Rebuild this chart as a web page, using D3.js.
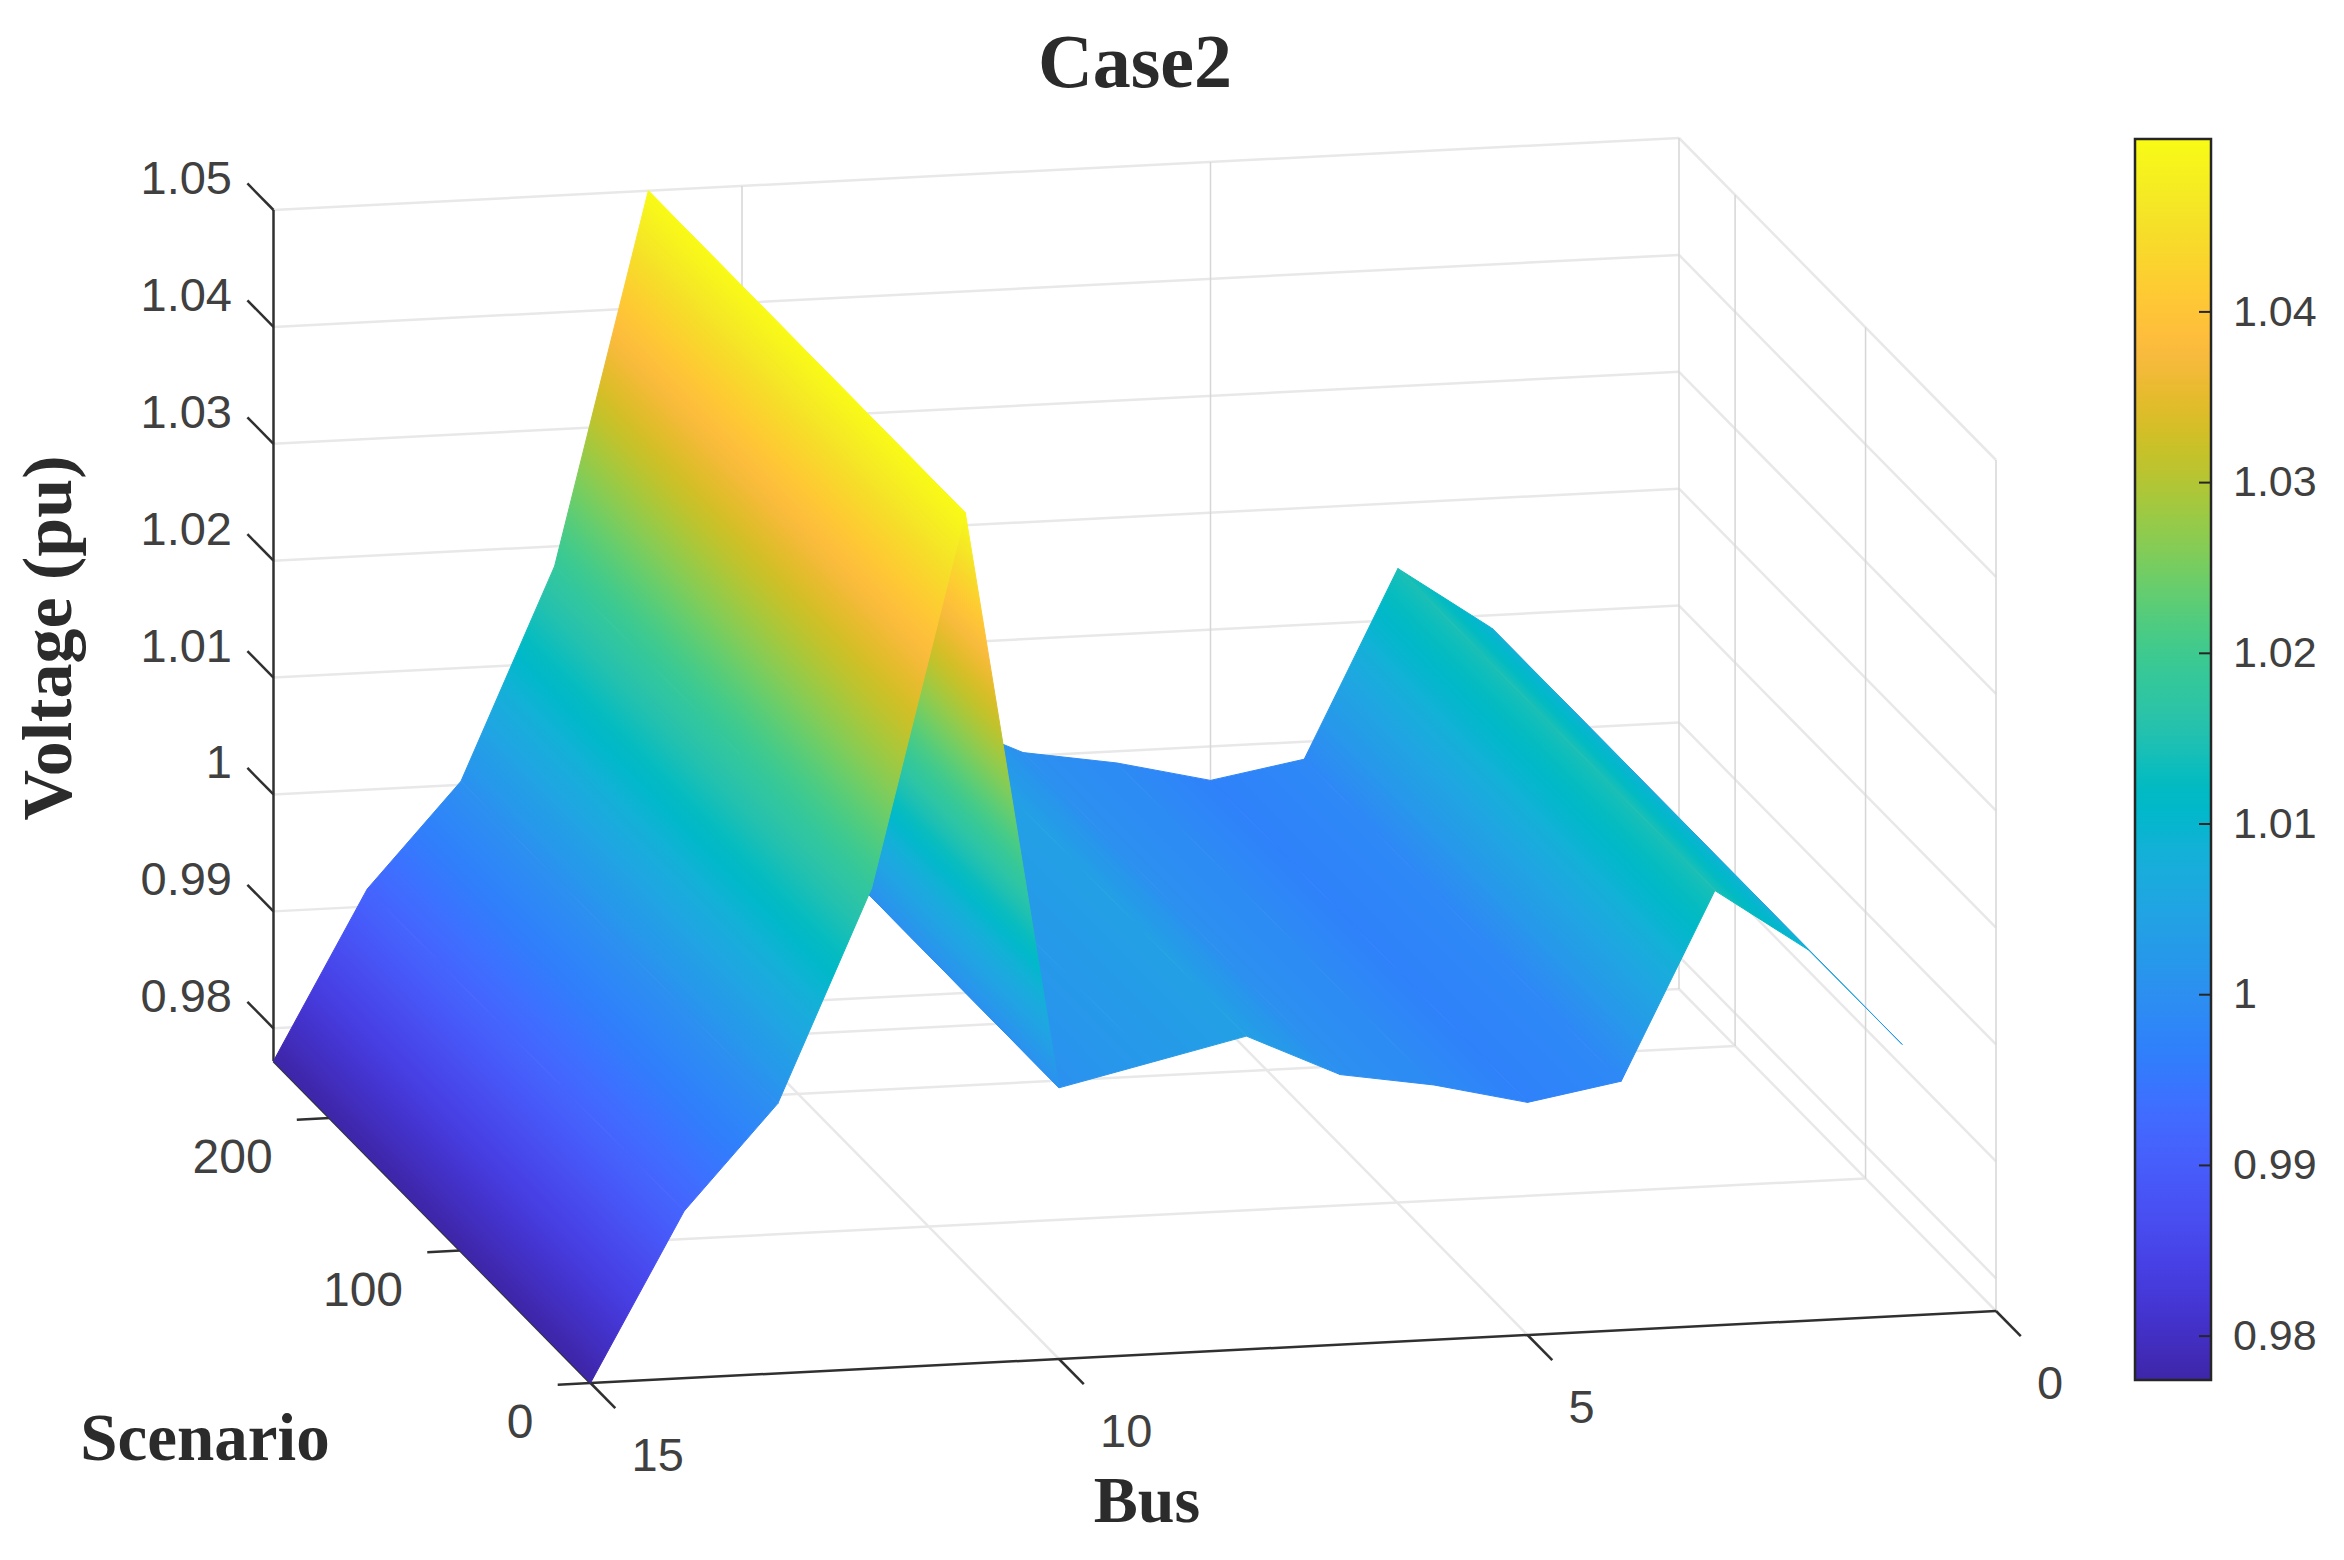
<!DOCTYPE html>
<html>
<head>
<meta charset="utf-8">
<title>Case2</title>
<script src="https://cdn.jsdelivr.net/npm/d3@7"></script>
<style>
  html, body { margin: 0; background: #fff; }
  svg { display: block; }
  .tick-label { font-family: "Liberation Sans", Arial, sans-serif; fill: #404040; }
  .axis-title { font-family: "Liberation Serif", serif; font-weight: bold; fill: #2b2b2b; }
</style>
</head>
<body>
<svg id="chart" width="2344" height="1560"></svg>
<script>
// Voltage per bus (flat along the scenario axis)
const buses = [1, 2, 3, 4, 5, 6, 7, 8, 9, 10, 11, 12, 13, 14, 15];
const voltages = [1.0004, 1.0089, 1.0144, 0.9985, 0.9971, 0.9990, 1.0003, 1.0040, 1.0022, 1.0004, 1.0500, 1.0183, 1.0003, 0.9915, 0.9772];
const busTicks = [0, 5, 10, 15];
const scenarioTicks = [0, 100, 200];
const scenarioMax = 243;
const voltageTicks = [0.98, 0.99, 1, 1.01, 1.02, 1.03, 1.04, 1.05];
const voltageMin = 0.9772;
const voltageMax = 1.05;
const colorbarTicks = [0.98, 0.99, 1, 1.01, 1.02, 1.03, 1.04];
const colorbarMin = 0.9774;
const colorbarMax = 1.0501;

// MATLAB parula, 64 entries
const parula = [
  [0.2422,0.1504,0.6603],[0.2504,0.1650,0.7076],[0.2578,0.1818,0.7511],[0.2647,0.1978,0.7952],
  [0.2706,0.2147,0.8364],[0.2751,0.2342,0.8710],[0.2783,0.2559,0.8991],[0.2803,0.2782,0.9221],
  [0.2813,0.3006,0.9414],[0.2810,0.3228,0.9579],[0.2795,0.3447,0.9717],[0.2760,0.3667,0.9829],
  [0.2699,0.3892,0.9906],[0.2602,0.4123,0.9952],[0.2440,0.4358,0.9988],[0.2206,0.4603,0.9973],
  [0.1963,0.4847,0.9892],[0.1834,0.5074,0.9798],[0.1786,0.5289,0.9682],[0.1764,0.5499,0.9520],
  [0.1687,0.5703,0.9359],[0.1540,0.5902,0.9218],[0.1460,0.6091,0.9079],[0.1380,0.6276,0.8973],
  [0.1248,0.6459,0.8883],[0.1113,0.6635,0.8763],[0.0952,0.6798,0.8598],[0.0689,0.6948,0.8394],
  [0.0297,0.7082,0.8163],[0.0036,0.7203,0.7917],[0.0067,0.7312,0.7660],[0.0433,0.7411,0.7394],
  [0.0964,0.7500,0.7120],[0.1408,0.7584,0.6842],[0.1717,0.7670,0.6554],[0.1938,0.7758,0.6251],
  [0.2161,0.7843,0.5923],[0.2470,0.7918,0.5567],[0.2906,0.7973,0.5188],[0.3406,0.8008,0.4789],
  [0.3909,0.8029,0.4354],[0.4456,0.8024,0.3909],[0.5044,0.7993,0.3480],[0.5616,0.7942,0.3045],
  [0.6174,0.7876,0.2612],[0.6720,0.7793,0.2227],[0.7242,0.7698,0.1910],[0.7738,0.7598,0.1646],
  [0.8203,0.7498,0.1535],[0.8634,0.7406,0.1596],[0.9035,0.7330,0.1774],[0.9393,0.7288,0.2100],
  [0.9728,0.7298,0.2394],[0.9956,0.7434,0.2371],[0.9970,0.7659,0.2199],[0.9952,0.7893,0.2028],
  [0.9892,0.8136,0.1885],[0.9786,0.8386,0.1766],[0.9676,0.8639,0.1643],[0.9610,0.8890,0.1537],
  [0.9597,0.9135,0.1423],[0.9628,0.9373,0.1265],[0.9691,0.9606,0.1064],[0.9769,0.9839,0.0805]
].map(c => d3.rgb(c[0] * 255, c[1] * 255, c[2] * 255).formatHex());

const svg = d3.select("#chart");
const defs = svg.append("defs");

// Orthographic projection: each data axis moves the point along its own screen direction
const xBus = d3.scaleLinear().domain([0, 15]).range([1996, 590.5]);
const yBus = d3.scaleLinear().domain([0, 15]).range([1311, 1383]);
const xScenario = d3.scaleLinear().domain([0, scenarioMax]).range([0, -317]);
const yScenario = d3.scaleLinear().domain([0, scenarioMax]).range([0, -322]);
const yVoltage = d3.scaleLinear().domain([voltageMin, voltageMax]).range([0, -851]);

function project(bus, scenario, voltage) {
  return [xBus(bus) + xScenario(scenario), yBus(bus) + yScenario(scenario) + yVoltage(voltage)];
}

const color = d3.scaleLinear()
  .domain(parula.map((c, i) => colorbarMin + (colorbarMax - colorbarMin) * i / (parula.length - 1)))
  .range(parula)
  .clamp(true);

function drawLines(parent, segments, stroke, width) {
  parent.append("g").selectAll("line")
    .data(segments)
    .join("line")
    .attr("x1", d => d[0][0]).attr("y1", d => d[0][1])
    .attr("x2", d => d[1][0]).attr("y2", d => d[1][1])
    .attr("stroke", stroke)
    .attr("stroke-width", width);
}

function drawBox() {
  const g = svg.append("g");
  const wallColor = "#e8e8e8";
  const verticalColor = "#d6d6d6";

  // z lines on the back wall and the bus=0 wall
  drawLines(g, voltageTicks.map(v => [project(15, scenarioMax, v), project(0, scenarioMax, v)]), wallColor, 2.5);
  drawLines(g, voltageTicks.map(v => [project(0, scenarioMax, v), project(0, 0, v)]), wallColor, 2.5);
  // floor
  drawLines(g, busTicks.map(b => [project(b, 0, voltageMin), project(b, scenarioMax, voltageMin)]), wallColor, 2.5);
  drawLines(g, scenarioTicks.slice(1).concat(scenarioMax).map(s => [project(15, s, voltageMin), project(0, s, voltageMin)]), wallColor, 2.5);
  // verticals
  drawLines(g, busTicks.slice(0, 3).map(b => [project(b, scenarioMax, voltageMin), project(b, scenarioMax, voltageMax)]), verticalColor, 1.5);
  drawLines(g, scenarioTicks.map(s => [project(0, s, voltageMin), project(0, s, voltageMax)]), verticalColor, 1.5);

  // dark axes and ticks
  const dark = "#303030";
  drawLines(g, [
    [project(15, 0, voltageMin), project(0, 0, voltageMin)],
    [project(15, 0, voltageMin), project(15, scenarioMax, voltageMin)],
    [project(15, scenarioMax, voltageMin), project(15, scenarioMax, voltageMax)]
  ], dark, 2.5);
  drawLines(g, busTicks.map(b => [project(b, 0, voltageMin), project(b, -19, voltageMin)]), dark, 2.5);
  drawLines(g, scenarioTicks.map(s => [project(15, s, voltageMin), project(15.35, s, voltageMin)]), dark, 2.5);
  drawLines(g, voltageTicks.map(v => [project(15, scenarioMax, v), project(15, scenarioMax + 20, v)]), dark, 2.5);
}

function drawSurface() {
  const g = svg.append("g");
  const stripes = d3.pairs(buses.map((b, i) => ({bus: b, voltage: voltages[i]})));
  const nStops = 24;

  stripes.forEach((pair, i) => {
    const [a, b] = pair;
    const a0 = project(a.bus, 0, a.voltage), a1 = project(a.bus, scenarioMax, a.voltage);
    const b0 = project(b.bus, 0, b.voltage), b1 = project(b.bus, scenarioMax, b.voltage);

    // colour only changes across the strip, so the gradient runs square to the scenario direction
    const ux = a1[0] - a0[0], uy = a1[1] - a0[1];
    const len = Math.hypot(ux, uy);
    const nx = -uy / len, ny = ux / len;
    const dist = (b0[0] - a0[0]) * nx + (b0[1] - a0[1]) * ny;
    const id = `strip${i}`;
    const grad = defs.append("linearGradient")
      .attr("id", id)
      .attr("gradientUnits", "userSpaceOnUse")
      .attr("x1", a0[0]).attr("y1", a0[1])
      .attr("x2", a0[0] + nx * dist).attr("y2", a0[1] + ny * dist);
    grad.selectAll("stop")
      .data(d3.range(nStops + 1))
      .join("stop")
      .attr("offset", k => k / nStops)
      .attr("stop-color", k => color(a.voltage + (b.voltage - a.voltage) * k / nStops));

    const paint = Math.abs(dist) < 0.01 ? color(a.voltage) : `url(#${id})`;
    g.append("path")
      .attr("d", d3.line()([a0, b0, b1, a1]) + "Z")
      .attr("fill", paint)
      .attr("stroke", paint)
      .attr("stroke-width", 1)
      .attr("stroke-linejoin", "round");
  });
}

function drawTickLabels() {
  const labels = svg.append("g").attr("class", "tick-label");
  labels.selectAll(".v")
    .data(voltageTicks)
    .join("text")
    .attr("x", 232)
    .attr("y", v => project(15, scenarioMax, v)[1] - 33)
    .attr("dy", "0.36em")
    .attr("text-anchor", "end")
    .style("font-size", "47px")
    .text(v => +v.toFixed(2));
  labels.selectAll(".s")
    .data(scenarioTicks)
    .join("text")
    .attr("x", s => project(15, s, voltageMin)[0] - 57)
    .attr("y", s => project(15, s, voltageMin)[1] + 38)
    .attr("dy", "0.36em")
    .attr("text-anchor", "end")
    .style("font-size", "48px")
    .text(s => s);
  labels.selectAll(".b")
    .data(busTicks)
    .join("text")
    .attr("x", b => project(b, 0, voltageMin)[0] + 41)
    .attr("y", b => project(b, 0, voltageMin)[1] + 71)
    .attr("dy", "0.36em")
    .style("font-size", "47px")
    .text(b => b);
}

function drawColorbar() {
  const x0 = 2135, x1 = 2211, top = 139, bottom = 1380;
  const y = d3.scaleLinear().domain([colorbarMin, colorbarMax]).range([bottom, top]);

  const grad = defs.append("linearGradient")
    .attr("id", "colorbar")
    .attr("x1", 0).attr("y1", 1)
    .attr("x2", 0).attr("y2", 0);
  grad.selectAll("stop")
    .data(parula)
    .join("stop")
    .attr("offset", (d, i) => i / (parula.length - 1))
    .attr("stop-color", d => d);

  svg.append("rect")
    .attr("x", x0).attr("y", top)
    .attr("width", x1 - x0).attr("height", bottom - top)
    .attr("fill", "url(#colorbar)")
    .attr("stroke", "#262626")
    .attr("stroke-width", 2.5);

  const axis = d3.axisRight(y)
    .tickValues(colorbarTicks)
    .tickSize(-12)
    .tickPadding(22)
    .tickFormat(d => +d.toFixed(2));
  const g = svg.append("g").attr("transform", `translate(${x1},0)`).call(axis);
  g.select(".domain").remove();
  g.selectAll(".tick line").attr("stroke", "#262626").attr("stroke-width", 2);
  g.selectAll(".tick text")
    .attr("class", "tick-label")
    .attr("fill", null)
    .style("font-size", "43px")
    .style("font-family", '"Liberation Sans", Arial, sans-serif');
}

function drawTitles() {
  const title = (text, x, y, size, rotate) => svg.append("text")
    .attr("class", "axis-title")
    .attr("text-anchor", "middle")
    .attr("dy", "0.35em")
    .attr("transform", `translate(${x},${y})` + (rotate ? ` rotate(${rotate})` : ""))
    .style("font-size", size + "px")
    .text(text);
  title("Case2", 1135, 60, 76);
  title("Voltage (pu)", 46, 638, 70, -90);
  title("Scenario", 205, 1437, 67);
  title("Bus", 1147, 1499, 66);
}

drawBox();
drawSurface();
drawTickLabels();
drawColorbar();
drawTitles();
</script>
</body>
</html>
